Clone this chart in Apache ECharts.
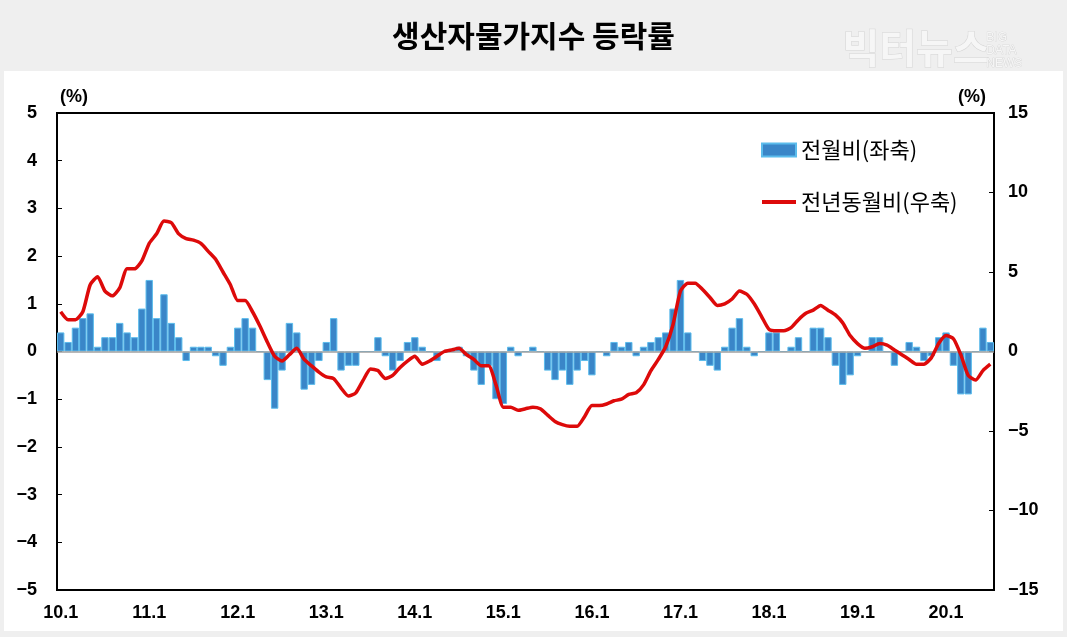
<!DOCTYPE html>
<html>
<head>
<meta charset="utf-8">
<script src="https://cdn.jsdelivr.net/npm/echarts@6/dist/echarts.min.js"></script>
<style>
  html, body { margin: 0; padding: 0; background: #efefef; }
  #chart-container { width: 1067px; height: 637px; }
</style>
</head>
<body>
<div id="chart-container"></div>
<script>
// months 2010.1 ~ 2020.7
const years = [10, 11, 12, 13, 14, 15, 16, 17, 18, 19, 20];
const monthCount = 127;
const categories = [];
years.forEach(y => {
    for (let m = 1; m <= 12; m++) categories.push(y + '.' + m);
});
categories.length = monthCount;

// 전월비 (left axis, %)
const momChange = [
    0.4, 0.2, 0.5, 0.7, 0.8, 0.1, 0.3, 0.3, 0.6, 0.4, 0.3, 0.9,
    1.5, 0.7, 1.2, 0.6, 0.3, -0.2, 0.1, 0.1, 0.1, -0.1, -0.3, 0.1,
    0.5, 0.7, 0.5, 0, -0.6, -1.2, -0.4, 0.6, 0.4, -0.8, -0.7, -0.2,
    0.2, 0.7, -0.4, -0.3, -0.3, 0, 0, 0.3, -0.1, -0.4, -0.2, 0.2,
    0.3, 0.1, 0, -0.2, 0, 0, 0.1, -0.1, -0.4, -0.7, -0.3, -1.0,
    -1.1, 0.1, -0.1, 0, 0.1, 0, -0.4, -0.6, -0.4, -0.7, -0.4, -0.2,
    -0.5, 0, -0.1, 0.2, 0.1, 0.2, -0.1, 0.1, 0.2, 0.3, 0.4, 0.9,
    1.5, 0.4, 0, -0.2, -0.3, -0.4, 0.1, 0.5, 0.7, 0.1, -0.1, 0,
    0.4, 0.4, 0, 0.1, 0.3, 0, 0.5, 0.5, 0.3, -0.3, -0.7, -0.5,
    -0.1, 0, 0.3, 0.3, 0, -0.3, 0, 0.2, 0.1, -0.2, -0.1, 0.3,
    0.4, -0.3, -0.9, -0.9, 0, 0.5, 0.2
];

// 전년동월비 (right axis, %)
const yoyChange = [
    2.5, 2.0, 2.0, 2.5, 4.2, 4.7, 3.8, 3.5, 4.0, 5.2, 5.2, 5.7,
    6.8, 7.4, 8.2, 8.1, 7.4, 7.1, 7.0, 6.8, 6.3, 5.8, 5.0, 4.2,
    3.2, 3.2, 2.5, 1.6, 0.6, -0.3, -0.6, -0.2, 0.2, -0.5, -0.9, -1.3,
    -1.6, -1.7, -2.3, -2.8, -2.6, -1.8, -1.1, -1.2, -1.7, -1.5, -1.0, -0.6,
    -0.3, -0.8, -0.6, -0.3, 0.0, 0.1, 0.2, -0.2, -0.5, -0.9, -0.9, -2.1,
    -3.5, -3.5, -3.7, -3.6, -3.5, -3.6, -4.0, -4.4, -4.6, -4.7, -4.7, -4.1,
    -3.4, -3.4, -3.3, -3.1, -3.0, -2.7, -2.6, -2.1, -1.2, -0.5, 0.3, 1.7,
    3.8, 4.3, 4.3, 3.9, 3.4, 2.9, 3.0, 3.3, 3.8, 3.6, 3.0, 2.2,
    1.4, 1.3, 1.3, 1.5, 2.0, 2.4, 2.6, 2.9, 2.6, 2.3, 1.8, 1.0,
    0.5, 0.2, 0.3, 0.5, 0.4, 0.1, -0.2, -0.5, -0.8, -0.8, -0.4, 0.5,
    1.0, 0.8, -0.2, -1.5, -1.8, -1.2, -0.8
];

const seriesNames = ['전월비(좌축)', '전년동월비(우축)'];

const numFont = 'Liberation Sans';
const krFont = 'Noto Sans CJK KR';
const minusFmt = v => (v < 0 ? '\u2212' + Math.abs(v) : String(v));

const myChart = echarts.init(document.getElementById('chart-container'));
const option = {
    animation: false,
    backgroundColor: '#efefef',
    title: {
        left: 'center',
        top: 16,
        text: '생산자물가지수 등락률',
        textStyle: { fontFamily: krFont, fontSize: 30, fontWeight: 'bold', color: '#000' }
    },
    graphic: [
        { type: 'rect', z: -10, silent: true, shape: { x: 4, y: 71, width: 1059, height: 560 }, style: { fill: '#fff' } },
        { type: 'text', silent: true, left: 842, top: 27,
          style: { text: '빅터뉴스', font: 'bold 40px "Noto Sans CJK KR"', fill: '#f6f6f6', stroke: '#d4d4d4', lineWidth: 1 } },
        { type: 'text', silent: true, left: 986, top: 31,
          style: { text: 'BIG\nDATA\nNEWS', font: '12px "Liberation Sans"', lineHeight: 13, fill: '#f6f6f6', stroke: '#d0d0d0', lineWidth: 0.7 } },
        { type: 'text', silent: true, left: 60, top: 88,
          style: { text: '(%)', font: 'bold 18px "Liberation Sans"', fill: '#000' } },
        { type: 'text', silent: true, left: 958, top: 88,
          style: { text: '(%)', font: 'bold 18px "Liberation Sans"', fill: '#000' } }
    ],
    legend: {
        data: [
            { name: seriesNames[0], icon: 'rect' },
            { name: seriesNames[1], icon: 'path://M0,0 H34 V4 H0 Z', itemStyle: { color: '#dd0a0a' } }
        ],
        orient: 'vertical',
        left: 756,
        top: 134,
        itemWidth: 34,
        itemHeight: 13,
        itemGap: 30,
        textStyle: { fontFamily: krFont, fontSize: 22, color: '#000' }
    },
    grid: {
        left: 57,
        right: 73,
        top: 113,
        bottom: 47,
        show: true,
        borderColor: '#000',
        borderWidth: 2,
        backgroundColor: 'transparent'
    },
    xAxis: {
        type: 'category',
        data: categories,
        boundaryGap: true,
        axisLine: { show: false, onZero: false },
        axisTick: { show: false },
        axisLabel: {
            interval: 11,
            margin: 14,
            color: '#000',
            fontFamily: numFont,
            fontSize: 18,
            fontWeight: 'bold'
        }
    },
    yAxis: [
        {
            type: 'value',
            position: 'left',
            min: -5,
            max: 5,
            interval: 1,
            axisLine: { show: false },
            axisTick: { show: true, inside: true, length: 5, lineStyle: { color: '#000' } },
            splitLine: { show: false },
            axisLabel: { margin: 20, color: '#000', fontFamily: numFont, fontSize: 18, fontWeight: 'bold', formatter: minusFmt }
        },
        {
            type: 'value',
            position: 'right',
            min: -15,
            max: 15,
            interval: 5,
            axisLine: { show: false },
            axisTick: { show: true, inside: true, length: 5, lineStyle: { color: '#000' } },
            splitLine: { show: false },
            axisLabel: { margin: 14, color: '#000', fontFamily: numFont, fontSize: 18, fontWeight: 'bold', formatter: minusFmt }
        }
    ],
    series: [
        {
            name: seriesNames[0],
            type: 'bar',
            yAxisIndex: 0,
            data: momChange,
            barCategoryGap: '0%',
            itemStyle: { color: '#3a86c8', borderColor: '#5bbcec', borderWidth: 1 },
            markLine: {
                silent: true,
                symbol: 'none',
                label: { show: false },
                lineStyle: { color: '#a0a0a0', width: 1.5, type: 'solid' },
                data: [{ yAxis: 0 }]
            }
        },
        {
            name: seriesNames[1],
            type: 'line',
            yAxisIndex: 1,
            data: yoyChange,
            symbol: 'none',
            smooth: 0.2,
            lineStyle: { color: '#dd0a0a', width: 3.5 },
            itemStyle: { color: '#dd0a0a' },
            z: 5
        }
    ]
};

option && myChart.setOption(option);
</script>
</body>
</html>
